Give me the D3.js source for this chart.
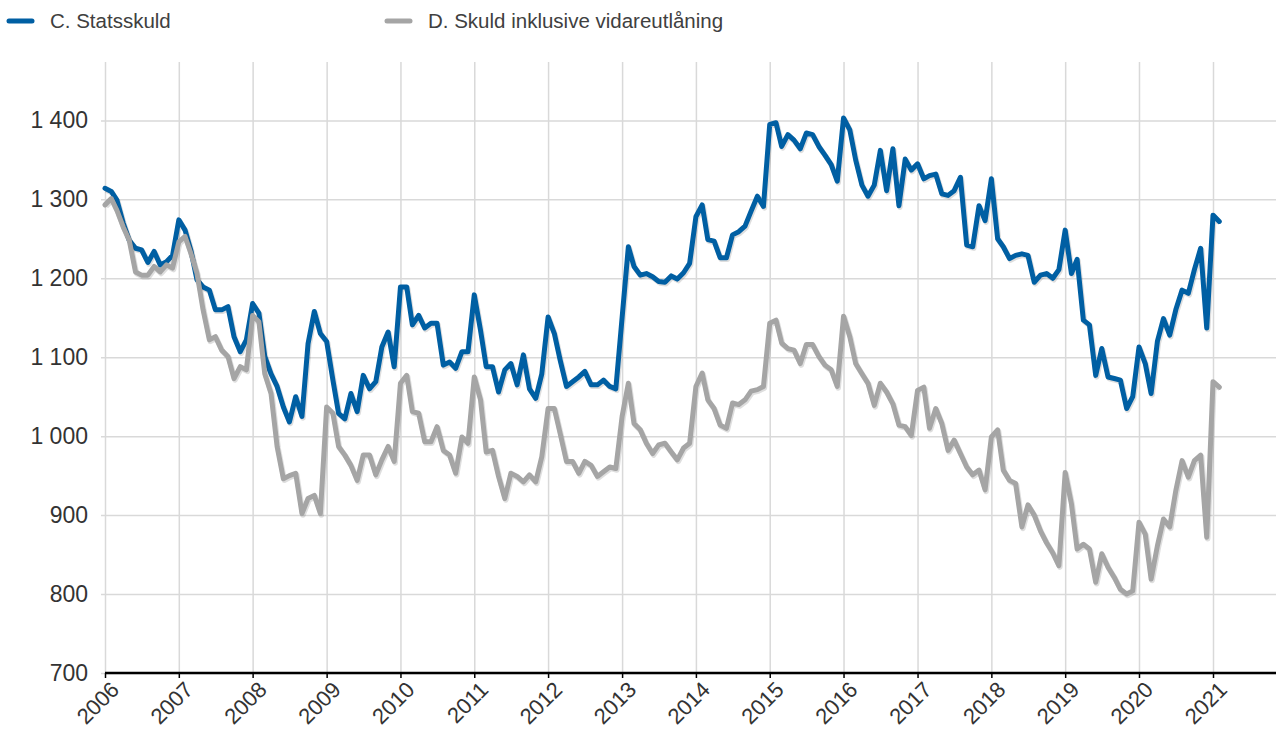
<!DOCTYPE html>
<html>
<head>
<meta charset="utf-8">
<script src="https://cdn.jsdelivr.net/npm/d3@7"></script>
<style>
  body { margin: 0; background: #fff; }
  svg { display: block; font-family: "Liberation Sans", Arial, sans-serif; }
</style>
</head>
<body>
<script>
var w = 1276;
var h = 729;

// first month of both series, one value per month
var startYear = 2006;
var startMonth = 0;

var seriesNames = ["C. Statsskuld", "D. Skuld inklusive vidareutlåning"];
var seriesColors = ["#005fa3", "#a5a5a5"];

var statsskuld = [
  1314, 1310, 1299, 1270, 1248, 1238, 1236, 1220, 1234, 1217, 1221, 1229,
  1274, 1261, 1236, 1198, 1189, 1185, 1160, 1160, 1164, 1126, 1107, 1122,
  1168, 1156, 1101, 1079, 1063, 1037, 1018, 1050, 1025, 1117, 1158, 1130,
  1120, 1071, 1029, 1022, 1054, 1031, 1077, 1060, 1069, 1113, 1132, 1088,
  1189, 1189, 1141, 1153, 1137, 1143, 1143, 1090, 1094, 1086, 1107, 1107,
  1179, 1134, 1088, 1088, 1056, 1084, 1092, 1065, 1103, 1060, 1048, 1079,
  1151, 1130, 1096, 1063, 1069, 1075, 1082, 1065, 1065, 1071, 1063, 1060,
  1150, 1240, 1215, 1204, 1206, 1202, 1196, 1195, 1203, 1199, 1207, 1219,
  1278, 1293, 1249, 1247, 1226, 1226, 1255, 1259, 1266, 1285, 1304, 1291,
  1395, 1397, 1367, 1382, 1375, 1364, 1384, 1382, 1367, 1356, 1344, 1323,
  1403, 1388, 1350, 1318, 1304, 1318, 1362, 1311, 1364, 1292, 1351, 1337,
  1345, 1326, 1330, 1332, 1307, 1305, 1311, 1328, 1242, 1240, 1292, 1273,
  1326, 1250, 1240, 1225, 1229, 1231, 1229, 1195, 1204, 1206, 1200, 1211,
  1261, 1206, 1224, 1147, 1141, 1077, 1111, 1075, 1073, 1071, 1035, 1050,
  1113, 1092, 1054, 1120, 1149, 1128, 1160, 1185, 1181, 1211, 1238, 1137,
  1280, 1272
];

var skuldInklVidareutlaning = [
  1293, 1301, 1286, 1265, 1248, 1208, 1204, 1204, 1215, 1208, 1217, 1213,
  1246, 1253, 1232, 1206, 1160, 1122, 1126, 1109, 1101, 1073, 1088, 1084,
  1153, 1145, 1079, 1054, 987, 946, 950, 953, 902, 921, 925, 902,
  1037, 1029, 987, 976, 963, 944, 976, 976, 951, 970, 987, 968,
  1067, 1077, 1031, 1029, 993, 993, 1012, 982, 976, 953, 999, 991,
  1075, 1046, 980, 982, 949, 921, 953, 949, 942, 951, 942, 974,
  1035, 1035, 1003, 968, 968, 953, 968, 963, 949, 955, 961, 959,
  1025, 1067, 1016, 1008, 991, 978, 989, 991, 980, 970, 985, 991,
  1063, 1080, 1046, 1035, 1014, 1010, 1042, 1040, 1046, 1057, 1059, 1063,
  1143, 1147, 1118, 1111, 1109, 1092, 1116, 1116, 1101, 1090, 1084, 1063,
  1152, 1126, 1092, 1079, 1067, 1039, 1067, 1056, 1041, 1014, 1012, 1001,
  1058, 1062, 1010, 1035, 1016, 982, 995, 978, 961, 951, 957, 932,
  999, 1008, 957, 944, 940, 885, 913, 900, 880, 865, 852, 836,
  954, 914, 857, 863, 857, 815, 851, 834, 821, 806, 800, 804,
  891, 876, 819, 861, 895, 885, 931, 969, 948, 969, 976, 872,
  1069, 1062
];

var yearTicks = [2006, 2007, 2008, 2009, 2010, 2011, 2012, 2013,
  2014, 2015, 2016, 2017, 2018, 2019, 2020, 2021];
var yTicks = [700, 800, 900, 1000, 1100, 1200, 1300, 1400];

// note: "top" is taken by window.top, so use plotTop
var plotLeft = 105, plotRight = 1276, plotTop = 62, plotBottom = 673;

var x = d3.scaleUtc()
  .domain([new Date(Date.UTC(2006, 0, 1)), new Date(Date.UTC(2021, 0, 1))])
  .range([plotLeft, 1213]);
var y = d3.scaleLinear().domain([700, 1400]).range([plotBottom, 120.4]);

var nf = d3.formatLocale({ decimal: ",", thousands: " ", grouping: [3], currency: ["", " kr"] }).format(",d");

var svg = d3.select("body").append("svg").attr("width", w).attr("height", h);

function monthDate(i) {
  return new Date(Date.UTC(startYear, startMonth + i, 1));
}

// horizontal grid + y labels
var yAxis = svg.append("g")
  .attr("transform", "translate(101,0)")
  .call(d3.axisLeft(y).tickValues(yTicks).tickSize(-(plotRight - 101)).tickPadding(13).tickFormat(nf));
yAxis.select(".domain").remove();
yAxis.selectAll(".tick line").attr("stroke", "#d9d9d9").attr("stroke-width", 1.5);
yAxis.selectAll(".tick text")
  .attr("font-size", 23)
  .attr("fill", "#333")
  .attr("font-family", "Liberation Sans, Arial, sans-serif");

// vertical grid
var yearDates = yearTicks.map(function (d) { return new Date(Date.UTC(d, 0, 1)); });
var xGrid = svg.append("g")
  .attr("transform", "translate(0," + plotBottom + ")")
  .call(d3.axisBottom(x).tickValues(yearDates).tickSize(-(plotBottom - plotTop)).tickFormat(""));
xGrid.select(".domain").remove();
xGrid.selectAll(".tick line").attr("stroke", "#d9d9d9").attr("stroke-width", 1.5);

// lines
var line = d3.line()
  .x(function (d, i) { return x(monthDate(i)); })
  .y(function (d) { return y(d); });

[statsskuld, skuldInklVidareutlaning].forEach(function (s, k) {
  svg.append("path")
    .datum(s)
    .attr("d", line)
    .attr("transform", "translate(1,1.5)")
    .attr("fill", "none")
    .attr("stroke", "rgba(0,0,0,0.13)")
    .attr("stroke-width", 5.5)
    .attr("stroke-linejoin", "round");
  svg.append("path")
    .datum(s)
    .attr("d", line)
    .attr("fill", "none")
    .attr("stroke", seriesColors[k])
    .attr("stroke-width", 5)
    .attr("stroke-linejoin", "round")
    .attr("stroke-linecap", "round");
});

// x axis
var xAxis = svg.append("g")
  .attr("transform", "translate(0," + plotBottom + ")")
  .call(d3.axisBottom(x).tickValues(yearDates).tickSize(5).tickFormat(d3.utcFormat("%Y")));
xAxis.select(".domain").remove();
xAxis.selectAll(".tick line").attr("stroke", "#000").attr("stroke-width", 1.5);
xAxis.selectAll(".tick text")
  .attr("font-size", 22)
  .attr("fill", "#333")
  .attr("text-anchor", "end")
  .attr("x", 0)
  .attr("y", 0)
  .attr("dy", null)
  .attr("transform", "translate(15,18) rotate(-45)");
svg.append("line")
  .attr("x1", plotLeft).attr("x2", plotRight)
  .attr("y1", plotBottom).attr("y2", plotBottom)
  .attr("stroke", "#000").attr("stroke-width", 2.5);

// legend
var legendX = [7, 385];
seriesNames.forEach(function (name, k) {
  svg.append("line")
    .attr("x1", legendX[k] + 2).attr("x2", legendX[k] + 25)
    .attr("y1", 21).attr("y2", 21)
    .attr("stroke", seriesColors[k])
    .attr("stroke-width", 5)
    .attr("stroke-linecap", "round");
  svg.append("text")
    .attr("x", legendX[k] + 43)
    .attr("y", 28)
    .attr("font-size", 20.5)
    .attr("fill", "#404040")
    .text(name);
});
</script>
</body>
</html>
